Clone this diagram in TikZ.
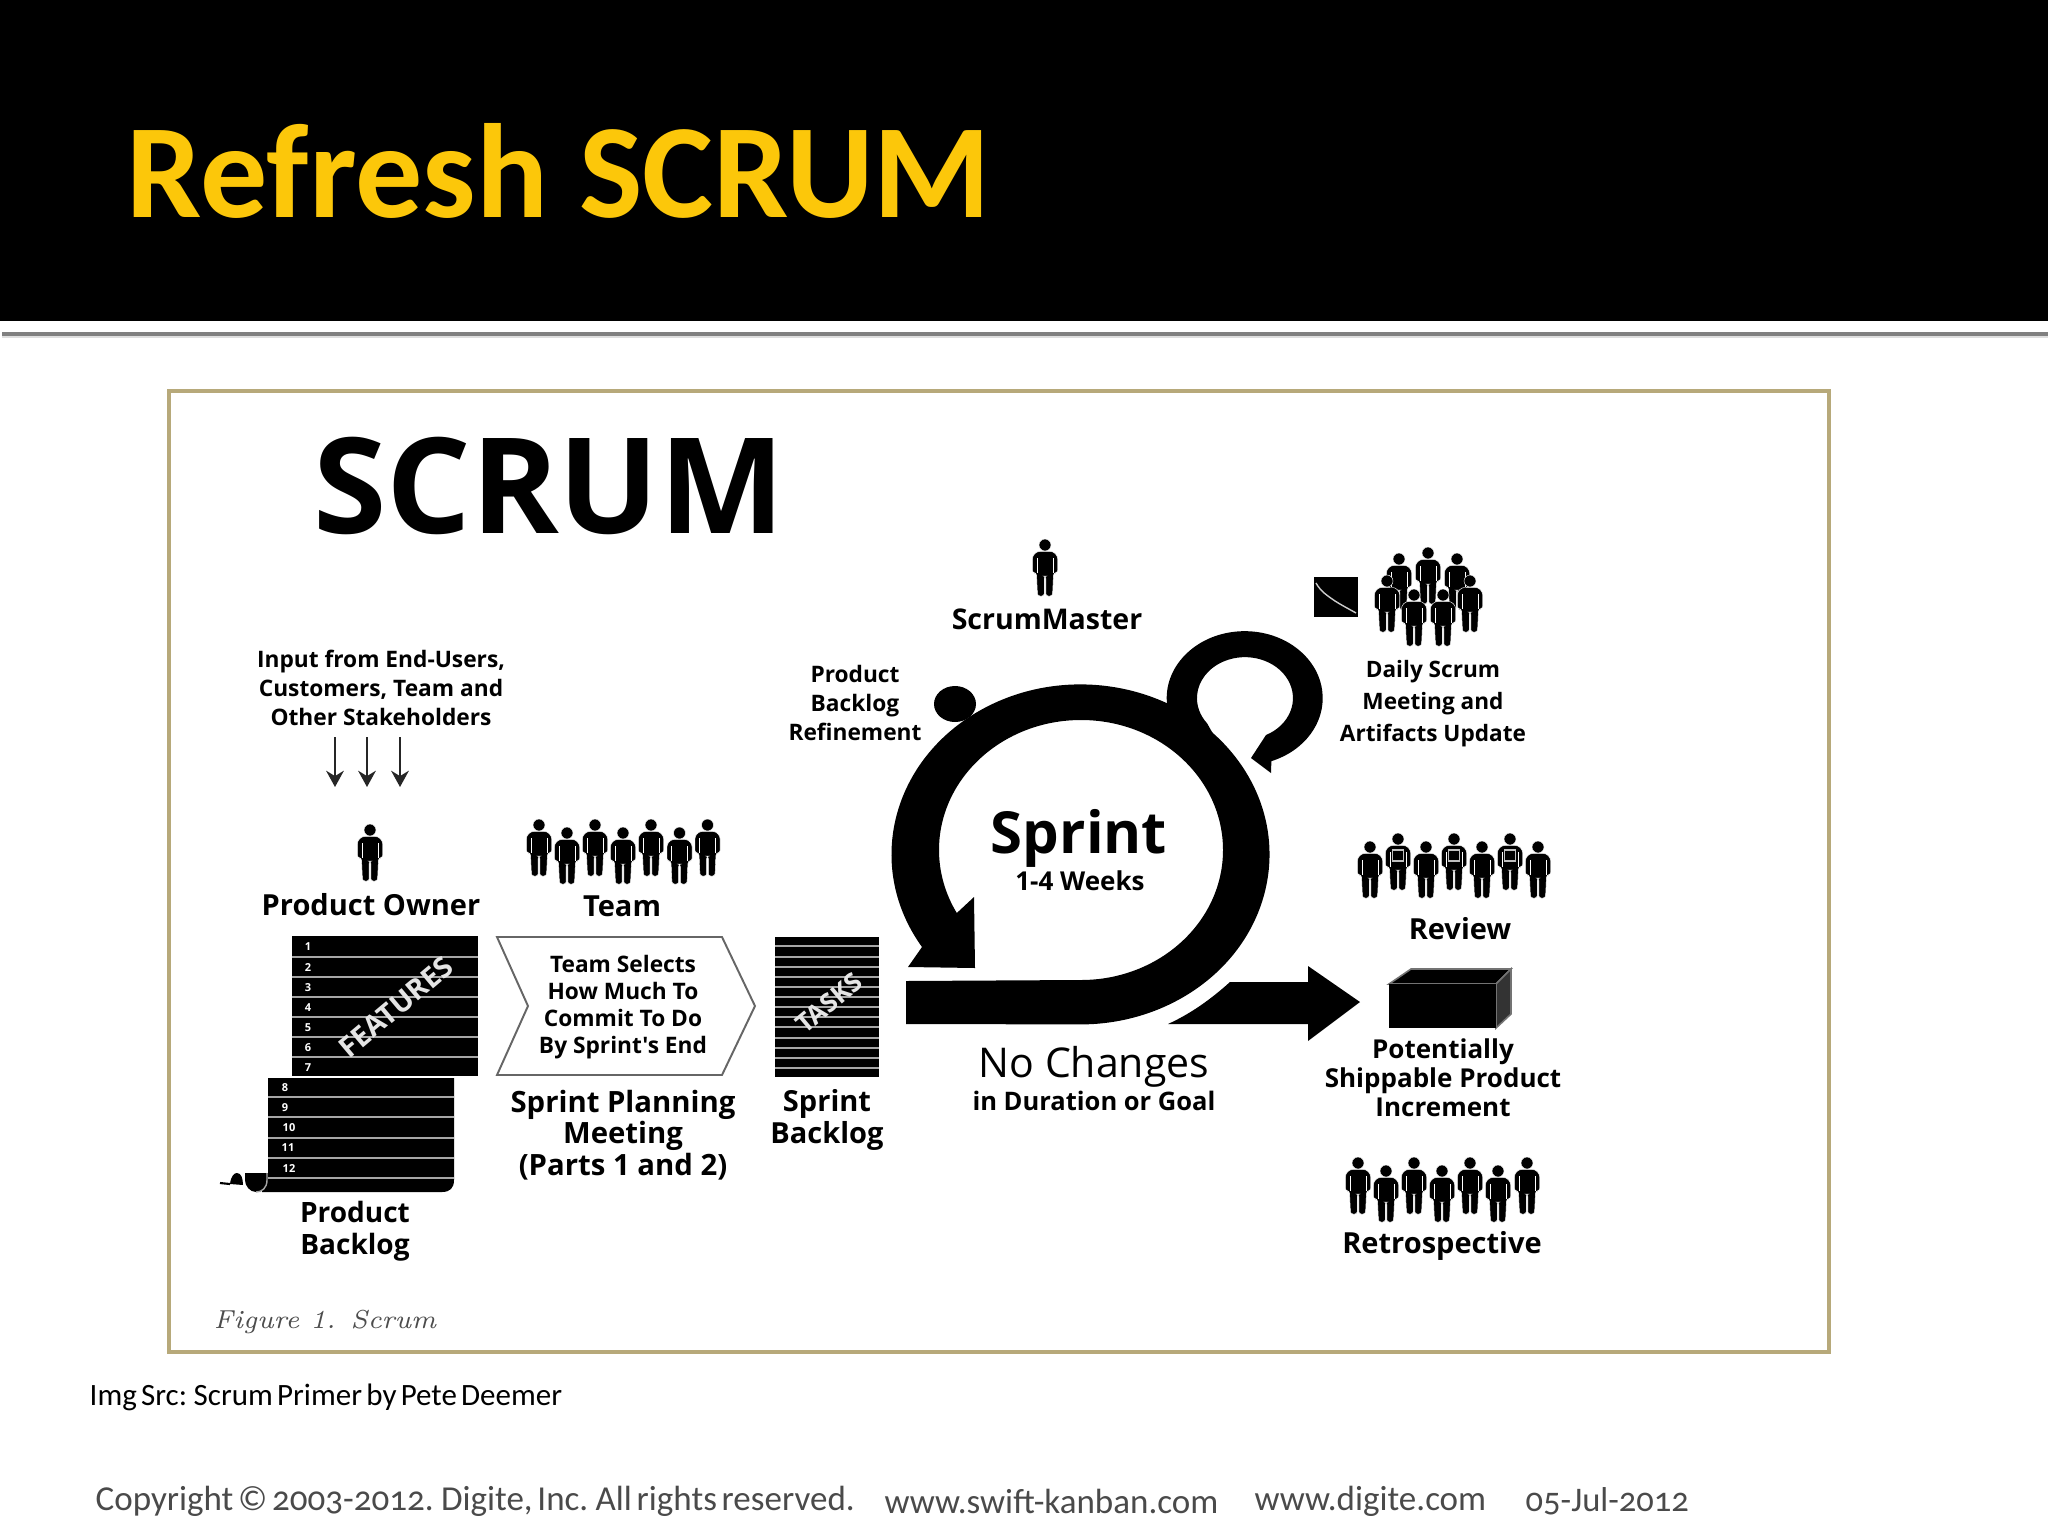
\documentclass[tikz,border=0pt]{standalone}
\usepackage{fontspec}
\usepackage{xcolor}
\usetikzlibrary{arrows.meta}
\newfontfamily\diagfont{Open Sans}
\newfontfamily\slidefont[Numbers=OldStyle]{Carlito}
\newfontfamily\slidestretto[Numbers=OldStyle, WordSpace=0.6]{Carlito}
\definecolor{oroTitolo}{HTML}{FCC70A}
\definecolor{cornice}{HTML}{B7A97A}
\definecolor{righe}{HTML}{A6A6A6}
\definecolor{piede}{HTML}{4A4A4A}
\newcommand{\corpo}[2]{%
\pgfmathsetmacro{\corpop}{#1*0.2845}\pgfmathsetmacro{\corpol}{#2*0.2845}%
\fontsize{\corpop pt}{\corpol pt}\selectfont
}
\newcommand{\omino}[2]{
\begin{scope}[shift={(#1,#2)}]
\filldraw[draw=white, line width=0.12pt] (0,6) circle (6);
\filldraw[draw=white, line width=0.12pt, rounded corners=0.7pt] (-12.5,34) -- (-12.5,17) -- (-8,12.5) -- (8,12.5) -- (12.5,17) -- (12.5,34) -- (8.5,34) -- (7.5,57) -- (0.8,57) -- (0.8,37) -- (-0.8,37) -- (-0.8,57) -- (-7.5,57) -- (-8.5,34) -- cycle;
\draw[white, line width=0.22pt] (-8,19) -- (-8,34) (8,19) -- (8,34);
\end{scope}
}
\newcommand{\targhetta}[2]{
\begin{scope}[shift={(#1,#2)}]
\draw[white!75!black, line width=0.35pt] (-5.5,17) rectangle (5.5,28);
\fill (0,22.5) circle (2.5);
\end{scope}
}
\tikzset{
    etichetta/.style = {align = center, inner sep = 0pt, font = \diagfont\bfseries},
    numero/.style = {inner sep = 0pt, text = white, font = {\diagfont\bfseries\corpo{11}{11}}},
    striscia/.style = {righe, line width = 0.6pt},
    freccina/.style = {-{Stealth[length = 4.6pt, width = 5pt, inset = 1.5pt]}, line width = 0.85pt, black!85}
}
\begin{document}
\begin{tikzpicture}[x = 0.01cm, y = -0.01cm]
    % Fondo e intestazione
    \fill[white] (0,0) rectangle (2048,1536);
    \useasboundingbox (0,0) rectangle (2048,1536);
    \fill[black] (0,0) rectangle (2048,321);
    \fill[black!50] (2,332) rectangle (2048,335.5);
    \fill[black!13] (2,335.5) rectangle (2048,338);
    \node[anchor = base west, inner sep = 0pt, text = oroTitolo, font = {\slidefont\bfseries\corpo{134}{134}}] (titolo) at (126,217) {Refresh\hspace{3.7pt} SCRUM};
    % Cornice
    \draw[cornice, line width = 1.2pt] (169,391) rectangle (1829,1352);
    \node[inner sep = 0pt, font = {\diagfont\bfseries\corpo{133}{133}}] (scrum) at (549,486) {SCRUM};
    % Product backlog
    \fill[black] (292,936) rectangle (478,1076);
    \draw[striscia] (292,957) -- (478,957) (292,977) -- (478,977) (292,997) -- (478,997) (292,1017) -- (478,1017) (292,1037) -- (478,1037) (292,1057) -- (478,1057);
    \fill[black] (268,1078) -- (454,1078) -- (454,1180) .. controls (454,1188) and (450,1192) .. (442,1192) -- (262,1192) -- (262,1173) -- (268,1173) -- cycle;
    \draw[striscia] (268,1097) -- (454,1097) (268,1117) -- (454,1117) (268,1138) -- (454,1138) (268,1158) -- (454,1158) (268,1178) -- (454,1178);
    \fill[black] (245,1173) -- (267,1173) -- (267,1180) .. controls (267,1188) and (262,1192) .. (256,1192) .. controls (250,1192) and (245,1186) .. (245,1180) -- cycle;
    \draw[righe, line width = 0.4pt] (267,1173) -- (267,1180) .. controls (267,1188) and (262,1192) .. (256,1192);
    \fill[black] (230,1184) .. controls (231,1176) and (234,1173) .. (237,1173) .. controls (241,1173) and (243,1178) .. (243,1185) -- cycle;
    \draw[black, line width = 0.6pt] (220,1183) -- (230,1184);
    \node[numero] (n1) at (308,947) {1};
    \node[numero] (n2) at (308,967.5) {2};
    \node[numero] (n3) at (308,987.5) {3};
    \node[numero] (n4) at (308,1007.5) {4};
    \node[numero] (n5) at (308,1027.5) {5};
    \node[numero] (n6) at (308,1047.5) {6};
    \node[numero] (n7) at (308,1067.5) {7};
    \node[numero] (n8) at (285,1088) {8};
    \node[numero] (n9) at (285,1108) {9};
    \node[numero] (n10) at (289,1128) {10};
    \node[numero] (n11) at (288,1148) {11};
    \node[numero] (n12) at (289,1168) {12};
    \node[inner sep = 0pt, rotate = 40, text = black!10, font = {\diagfont\bfseries\corpo{28.5}{30}}] (features) at (396,1007) {FEATURES};
    \node[etichetta, font = {\diagfont\bfseries\corpo{28}{32}}] (productBacklog) at (355,1231) {Product\\Backlog};
    % Input e product owner
    \node[etichetta, font = {\diagfont\bfseries\corpo{22.7}{29}}] (input) at (381,688) {Input from End-Users,\\Customers, Team and\\Other Stakeholders};
    \coordinate (a1) at (335,737);
    \coordinate (b1) at (335,787);
    \coordinate (a2) at (367,737);
    \coordinate (b2) at (367,787);
    \coordinate (a3) at (400,737);
    \coordinate (b3) at (400,787);
    \draw[freccina] (a1) -- (b1);
    \draw[freccina] (a2) -- (b2);
    \draw[freccina] (a3) -- (b3);
    \omino{370}{824}
    \node[etichetta, font = {\diagfont\bfseries\corpo{29}{29}}] (productOwner) at (371,905) {Product Owner};
    % Team
    \omino{539}{819}
    \omino{567}{827}
    \omino{595}{819}
    \omino{623}{827}
    \omino{651}{819}
    \omino{679.5}{827}
    \omino{707.5}{819}
    \node[etichetta, font = {\diagfont\bfseries\corpo{29}{29}}] (team) at (622,906) {Team};
    % Sprint planning
    \draw[black!60, line width = 0.55pt, fill = white] (497,937) -- (722,937) -- (755,1006) -- (722,1075) -- (497,1075) -- (528,1006) -- cycle;
    \node[etichetta, font = {\diagfont\bfseries\corpo{22.7}{27}}] (selects) at (623,1007) {Team Selects\\How Much To\\Commit To Do\\By Sprint's End};
    \node[etichetta, font = {\diagfont\bfseries\corpo{29.3}{31.5}}] (planning) at (623,1135) {Sprint Planning\\Meeting\\(Parts 1 and 2)};
    % Sprint backlog
    \fill[black] (775,937) rectangle (879,1077);
    \draw[striscia] (775,946) -- (879,946) (775,957) -- (879,957) (775,967) -- (879,967) (775,977) -- (879,977) (775,987) -- (879,987) (775,997) -- (879,997) (775,1007) -- (879,1007) (775,1017) -- (879,1017) (775,1027) -- (879,1027) (775,1038) -- (879,1038) (775,1048) -- (879,1048) (775,1058) -- (879,1058) (775,1068) -- (879,1068);
    \node[inner sep = 0pt, rotate = 40, text = black!10, font = {\diagfont\bfseries\corpo{26}{28}}] (tasks) at (829,1003) {TASKS};
    \node[etichetta, font = {\diagfont\bfseries\corpo{29}{32}}] (sprintBacklog) at (827,1120) {Sprint\\Backlog};
    % Anello dello sprint
    \coordinate (c1) at (906,981);
    \coordinate (c2) at (1081,980);
    \coordinate (c3) at (974,897);
    \coordinate (c4) at (975,968);
    \coordinate (c5) at (908,967);
    \coordinate (c6) at (922,947);
    \coordinate (c7) at (906,1024);
    \fill[black] (c1) -- (c2) arc[start angle = 90, end angle = -209, x radius = 142, y radius = 130] -- (c3) -- (c4) -- (c5) -- (c6) arc[start angle = -213, end angle = 90, x radius = 189, y radius = 170] -- (c7) -- cycle;
    \fill[black] (955,704) ellipse[x radius = 21, y radius = 18];
    % Anello giornaliero
    \coordinate (d1) at (1167,704);
    \coordinate (d2) at (1266,735);
    \coordinate (d3) at (1251,758);
    \coordinate (d4) at (1271,773);
    \coordinate (d5) at (1182,730);
    \fill[black] (d5) -- (d1) arc[start angle = 175, end angle = 430, x radius = 78, y radius = 67] -- (d4) -- (d3) -- (d2) arc[start angle = 64, end angle = -218, x radius = 48, y radius = 41] -- (1225,755) -- cycle;
    % Freccia verso il prodotto
    \coordinate (e1) at (1168,1024);
    \coordinate (e2) at (1308,1024);
    \coordinate (e3) at (1308,1041);
    \coordinate (e4) at (1360,1002);
    \coordinate (e5) at (1308,966);
    \coordinate (e6) at (1308,982);
    \coordinate (e7) at (1230,982);
    \fill[black] (e1) -- (e2) -- (e3) -- (e4) -- (e5) -- (e6) -- (e7) .. controls (1210,1000) and (1190,1014) .. (e1) -- cycle;
    \node[etichetta, font = {\diagfont\bfseries\corpo{58}{58}}] (sprint) at (1079,838) {Sprint};
    \node[etichetta, font = {\diagfont\bfseries\corpo{26}{26}}] (settimane) at (1080,881) {1-4 Weeks};
    \node[inner sep = 0pt, font = {\diagfont\corpo{41}{41}}] (noChanges) at (1094,1067) {No Changes};
    \node[etichetta, font = {\diagfont\bfseries\corpo{25.5}{27}}] (durata) at (1094,1101) {in Duration or Goal};
    \node[etichetta, font = {\diagfont\bfseries\corpo{22.7}{29}}] (refinement) at (855,703) {Product\\Backlog\\Refinement};
    % ScrumMaster
    \omino{1045}{539}
    \node[etichetta, font = {\diagfont\bfseries\corpo{28.5}{28}}] (scrumMaster) at (1047,619) {ScrumMaster};
    % Daily scrum
    \fill[black] (1314,577) rectangle (1358,617);
    \draw[white!80!black, line width = 0.4pt] (1316,583) .. controls (1321,592) and (1328,596) .. (1335,601) .. controls (1343,606) and (1349,609) .. (1356,613);
    \omino{1428}{547}
    \omino{1399}{553}
    \omino{1457}{553}
    \omino{1387}{575}
    \omino{1470}{575}
    \omino{1414}{589}
    \omino{1443}{589}
    \node[etichetta, font = {\diagfont\bfseries\corpo{22.6}{32}}] (daily) at (1433,704) {Daily Scrum\\Meeting and\\Artifacts Update};
    % Review
    \omino{1370}{841}
    \omino{1398}{833}
    \omino{1426}{841}
    \omino{1454}{833}
    \omino{1482}{841}
    \omino{1510}{833}
    \omino{1538}{841}
    \targhetta{1398}{833}
    \targhetta{1454}{833}
    \targhetta{1510}{833}
    \node[etichetta, font = {\diagfont\bfseries\corpo{29}{29}}] (review) at (1460,929) {Review};
    % Incremento
    \draw[black!55, line width = 0.45pt, fill = black] (1389,984) -- (1411,969) -- (1511,969) -- (1496,984) -- cycle;
    \draw[black!55, line width = 0.45pt, fill = black!80] (1496,984) -- (1511,969) -- (1511,1014) -- (1496,1028) -- cycle;
    \fill[black] (1389,984) rectangle (1496,1028);
    \node[etichetta, font = {\diagfont\bfseries\corpo{26}{29}}] (increment) at (1443,1078) {Potentially\\Shippable Product\\Increment};
    % Retrospective
    \omino{1358}{1157}
    \omino{1386}{1165}
    \omino{1414}{1157}
    \omino{1442}{1165}
    \omino{1470}{1157}
    \omino{1498}{1165}
    \omino{1527}{1157}
    \node[etichetta, font = {\diagfont\bfseries\corpo{29}{29}}] (retrospective) at (1442,1246) {Retrospective};
    % Didascalia e piede
    \node[anchor = west, inner sep = 0pt, text = black!70, font = {\rmfamily\itshape\corpo{26}{26}}] (figura) at (213,1322) {Figure 1. Scrum};
    \node[anchor = west, inner sep = 0pt, font = {\slidestretto\corpo{31}{31}}] (fonte) at (89,1397) {Img Src: Scrum Primer by Pete Deemer};
    \node[anchor = west, inner sep = 0pt, text = piede, font = {\slidestretto\corpo{35}{35}}] (copyright) at (95,1501) {Copyright © 2003-2012. Digite, Inc. All rights reserved.};
    \node[anchor = west, inner sep = 0pt, text = piede, font = {\slidefont\corpo{35}{35}}] (swift) at (884,1501) {www.swift-kanban.com};
    \node[anchor = west, inner sep = 0pt, text = piede, font = {\slidefont\corpo{35}{35}}] (digite) at (1254,1501) {www.digite.com};
    \node[anchor = west, inner sep = 0pt, text = piede, font = {\slidefont\corpo{34.5}{35}}] (data) at (1525,1501) {05-Jul-2012};
\end{tikzpicture}
\end{document}
